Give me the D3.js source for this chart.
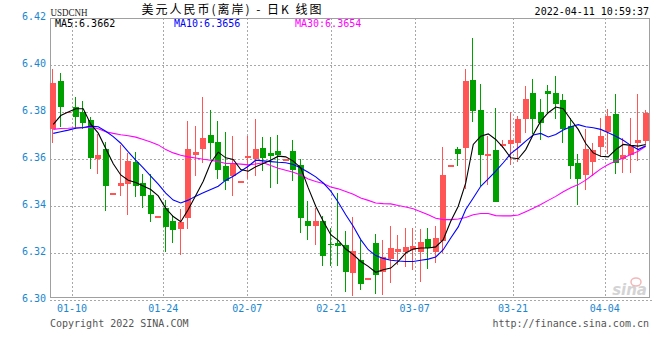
<!DOCTYPE html>
<html>
<head>
<meta charset="utf-8">
<script src="https://cdn.jsdelivr.net/npm/d3@7/dist/d3.min.js"></script>
<style>
  html, body { margin: 0; padding: 0; background: #fff; }
  svg { display: block; }
</style>
</head>
<body>
<svg id="chart" width="660" height="360"></svg>
<script>
// ---------------- data ----------------
const openV = [6.3729,6.3931,6.3800,6.3820,6.3799,6.3765,6.3599,6.3641,6.3453,6.3485,
6.3494,6.3587,6.3499,6.3446,6.3354,6.3393,6.3336,6.3301,6.3349,6.3617,
6.3641,6.3701,6.3671,6.3570,6.3528,6.3503,6.3604,6.3602,6.3646,6.3624,
6.3633,6.3596,6.3633,6.3575,6.3336,6.3315,6.3336,6.3240,6.3242,6.3233,
6.3114,6.3170,6.3091,6.3242,6.3119,6.3176,6.3205,6.3205,6.3213,6.3205,
6.3258,6.3205,6.3251,6.3572,6.3641,6.3647,6.3935,6.3807,6.3613,6.3637,
6.3659,6.3663,6.3670,6.3769,6.3880,6.3800,6.3889,6.3880,6.3850,6.3740,
6.3584,6.3531,6.3587,6.3651,6.3715,6.3790,6.3599,6.3616,6.3670,6.3675];

const closeV = [6.3922,6.3820,6.3801,6.3777,6.3755,6.3604,6.3616,6.3485,6.3455,6.3497,
6.3590,6.3485,6.3443,6.3366,6.3356,6.3311,6.3298,6.3332,6.3641,6.3628,
6.3689,6.3667,6.3553,6.3507,6.3582,6.3505,6.3613,6.3641,6.3604,6.3613,
6.3617,6.3598,6.3553,6.3348,6.3315,6.3336,6.3187,6.3238,6.3230,6.3120,
6.3209,6.3068,6.3093,6.3108,6.3183,6.3220,6.3216,6.3224,6.3229,6.3246,
6.3222,6.3263,6.3532,6.3574,6.3620,6.3931,6.3804,6.3617,6.3620,6.3415,
6.3663,6.3680,6.3769,6.3854,6.3769,6.3755,6.3877,6.3833,6.3726,6.3570,
6.3516,6.3641,6.3637,6.3698,6.3782,6.3582,6.3616,6.3655,6.3680,6.3794];

const highV = [6.3982,6.3965,6.3801,6.3865,6.3847,6.3779,6.3705,6.3674,6.3455,6.3660,
6.3627,6.3630,6.3535,6.3535,6.3356,6.3424,6.3360,6.3386,6.3762,6.3741,
6.3865,6.3809,6.3762,6.3715,6.3698,6.3505,6.3698,6.3769,6.3695,6.3695,
6.3701,6.3598,6.3681,6.3602,6.3421,6.3390,6.3358,6.3308,6.3454,6.3293,
6.3353,6.3254,6.3093,6.3279,6.3254,6.3317,6.3275,6.3308,6.3308,6.3301,
6.3308,6.3315,6.3651,6.3574,6.3651,6.3982,6.4113,6.3918,6.3698,6.3817,
6.3680,6.3802,6.3783,6.3911,6.3939,6.3854,6.3914,6.3955,6.3875,6.3776,
6.3623,6.3726,6.3667,6.3773,6.3812,6.3875,6.3691,6.3773,6.3875,6.3809];

const lowV = [6.3667,6.3738,6.3800,6.3729,6.3726,6.3556,6.3535,6.3379,6.3453,6.3443,
6.3362,6.3440,6.3393,6.3334,6.3354,6.3204,6.3244,6.3192,6.3304,6.3528,
6.3585,6.3602,6.3516,6.3468,6.3443,6.3503,6.3514,6.3528,6.3549,6.3475,
6.3494,6.3596,6.3507,6.3287,6.3256,6.3234,6.3145,6.3145,6.3145,6.3033,
6.3017,6.3044,6.3091,6.3024,6.3021,6.3073,6.3148,6.3142,6.3128,6.3078,
6.3131,6.3159,6.3202,6.3572,6.3570,6.3471,6.3758,6.3485,6.3488,6.3415,
6.3648,6.3575,6.3589,6.3712,6.3705,6.3681,6.3797,6.3769,6.3670,6.3516,
6.3405,6.3467,6.3528,6.3609,6.3620,6.3535,6.3542,6.3542,6.3592,6.3663];

const ma5 = [6.3747,6.3785,6.3800,6.3814,6.3814,6.3748,6.3710,6.3645,6.3580,6.3532,
6.3510,6.3500,6.3485,6.3470,6.3443,6.3390,6.3355,6.3333,6.3385,6.3445,
6.3505,6.3584,6.3629,6.3605,6.3598,6.3555,6.3548,6.3567,6.3581,6.3595,
6.3612,6.3609,6.3591,6.3562,6.3477,6.3399,6.3335,6.3278,6.3254,6.3217,
6.3193,6.3164,6.3143,6.3118,6.3129,6.3136,6.3164,6.3200,6.3217,6.3221,
6.3221,6.3226,6.3257,6.3335,6.3399,6.3498,6.3662,6.3697,6.3707,6.3683,
6.3648,6.3605,6.3601,6.3640,6.3704,6.3761,6.3797,6.3821,6.3814,6.3768,
6.3726,6.3666,6.3626,6.3612,6.3609,6.3640,6.3662,6.3658,6.3655,6.3662];

const ma10 = [6.3709,6.3716,6.3723,6.3731,6.3734,6.3740,6.3737,6.3718,6.3695,6.3667,
6.3630,6.3595,6.3562,6.3527,6.3493,6.3455,6.3425,6.3413,6.3425,6.3442,
6.3456,6.3470,6.3484,6.3510,6.3527,6.3548,6.3569,6.3595,6.3592,6.3589,
6.3586,6.3584,6.3577,6.3562,6.3544,6.3524,6.3498,6.3463,6.3416,6.3363,
6.3314,6.3257,6.3214,6.3189,6.3177,6.3169,6.3166,6.3164,6.3164,6.3169,
6.3174,6.3183,6.3214,6.3264,6.3311,6.3385,6.3434,6.3484,6.3515,6.3548,
6.3584,6.3623,6.3648,6.3676,6.3702,6.3709,6.3694,6.3704,6.3723,6.3737,
6.3746,6.3737,6.3733,6.3726,6.3712,6.3697,6.3680,6.3658,6.3640,6.3656];

const ma30 = [6.3726,6.3730,6.3731,6.3733,6.3733,6.3736,6.3729,6.3716,6.3709,6.3703,
6.3699,6.3693,6.3683,6.3672,6.3660,6.3640,6.3626,6.3616,6.3609,6.3604,
6.3599,6.3595,6.3589,6.3581,6.3581,6.3578,6.3575,6.3579,6.3584,6.3572,
6.3561,6.3552,6.3544,6.3532,6.3515,6.3504,6.3496,6.3481,6.3473,6.3462,
6.3450,6.3434,6.3424,6.3413,6.3410,6.3409,6.3402,6.3396,6.3388,6.3376,
6.3363,6.3348,6.3342,6.3342,6.3345,6.3351,6.3363,6.3368,6.3368,6.3359,
6.3358,6.3358,6.3362,6.3376,6.3390,6.3406,6.3424,6.3441,6.3461,6.3478,
6.3491,6.3510,6.3534,6.3558,6.3577,6.3591,6.3604,6.3619,6.3633,6.3654];

const xTickLabels = ["01-10","01-24","02-07","02-21","03-07","03-21","04-04"];
const xTickIndex  = [2.5, 14.67, 25.87, 37.07, 48.19, 61.3, 73.53];
const yTicks = [6.30, 6.32, 6.34, 6.36, 6.38, 6.40, 6.42];

const maLabels = [
  {text: "MA5:6.3662", color: "#000000"},
  {text: "MA10:6.3656", color: "#0000ff"},
  {text: "MA30:6.3654", color: "#ff00ff"}
];

// ---------------- layout ----------------
const svg = d3.select("#chart");
const L = 50, R = 649, T = 18, B = 297;
const mono = "'DejaVu Sans Mono', monospace";

const x = d3.scaleLinear().domain([-0.5, openV.length - 0.5]).range([49.5, 649.5]);
const y = d3.scaleLinear().domain([6.30, 6.42]).range([300, 18]);

const candles = openV.map((o, i) => ({i, o, c: closeV[i], h: highV[i], l: lowV[i]}));

// grid
const grid = svg.append("g").attr("stroke", "#a8a8a8").attr("stroke-dasharray", "2,2")
  .attr("shape-rendering", "crispEdges");
grid.selectAll("line.h").data(yTicks.filter(v => v > 6.305 && v < 6.415)).join("line")
  .attr("x1", L).attr("x2", R)
  .attr("y1", d => Math.round(y(d)) + 0.5).attr("y2", d => Math.round(y(d)) + 0.5);
grid.append("line").attr("x1", L).attr("x2", 652)
  .attr("y1", Math.round(y(6.30)) + 0.5).attr("y2", Math.round(y(6.30)) + 0.5);
grid.selectAll("line.v").data(xTickIndex).join("line")
  .attr("x1", d => Math.round(x(d)) + 0.5).attr("x2", d => Math.round(x(d)) + 0.5)
  .attr("y1", T).attr("y2", B);

// frame
svg.append("rect").attr("x", L + 0.5).attr("y", T + 0.5).attr("width", R - L).attr("height", B - T)
  .attr("fill", "none").attr("stroke", "#a0a0a0").attr("stroke-width", 1)
  .attr("shape-rendering", "crispEdges");

// sina watermark
const wm = svg.append("g");
wm.append("text").attr("x", 647).attr("y", 295).attr("text-anchor", "end")
  .attr("font-family", "'DejaVu Sans', sans-serif").attr("font-size", 15)
  .attr("font-style", "italic").attr("font-weight", "bold").attr("fill", "#d4d4d4").text("sina");
wm.append("ellipse").attr("cx", 636).attr("cy", 282).attr("rx", 5).attr("ry", 4)
  .attr("fill", "none").attr("stroke", "#f2b8b8").attr("stroke-width", 1.5);

// candles
const up = "#ff5555", down = "#00a000";
const cg = svg.append("g").attr("shape-rendering", "crispEdges");
const cs = cg.selectAll("g").data(candles).join("g");
cs.append("rect")
  .attr("x", d => Math.round(x(d.i)) - 1)
  .attr("width", 1)
  .attr("y", d => y(d.h))
  .attr("height", d => Math.max(0, y(d.l) - y(d.h)))
  .attr("fill", d => d.c >= d.o ? up : down);
cs.append("rect")
  .attr("x", d => Math.round(x(d.i)) - 3.5)
  .attr("width", 6)
  .attr("y", d => y(Math.max(d.o, d.c)))
  .attr("height", d => Math.max(1.5, Math.abs(y(d.o) - y(d.c))))
  .attr("fill", d => d.c >= d.o ? up : down);

// moving averages
const line = d3.line().x((d, i) => x(i)).y(d => y(d));
[[ma30, "#ff00ff"], [ma10, "#0000ff"], [ma5, "#000000"]].forEach(([arr, col]) => {
  svg.append("path").datum(arr).attr("d", line).attr("fill", "none")
    .attr("stroke", col).attr("stroke-width", 1.1);
});

// y axis labels
svg.append("g").selectAll("text").data(yTicks).join("text")
  .attr("x", 46).attr("y", d => y(d) + 1.5).attr("text-anchor", "end")
  .attr("font-family", mono).attr("font-size", 10).attr("fill", "#1a86d0")
  .text(d => d.toFixed(2));

// x axis labels
svg.append("g").selectAll("text").data(xTickLabels).join("text")
  .attr("x", (d, i) => x(xTickIndex[i])).attr("y", 311.5).attr("text-anchor", "middle")
  .attr("font-family", mono).attr("font-size", 10).attr("fill", "#1a86d0")
  .text(d => d);

// header
svg.append("text").attr("x", 50.5).attr("y", 15.5)
  .attr("font-family", "'Liberation Serif', serif").attr("font-size", 11)
  .attr("fill", "#222").attr("textLength", 37).attr("lengthAdjust", "spacingAndGlyphs").text("USDCNH");
svg.append("text").attr("x", 141.5).attr("y", 14)
  .attr("font-family", "'Noto Sans CJK SC', sans-serif").attr("font-size", 12)
  .attr("fill", "#000").attr("textLength", 180).attr("lengthAdjust", "spacing")
  .text("美元人民币(离岸) - 日K 线图");
svg.append("text").attr("x", 649).attr("y", 15).attr("text-anchor", "end")
  .attr("font-family", mono).attr("font-size", 10).attr("fill", "#000")
  .text("2022-04-11 10:59:37");

const maX = [55, 174, 295];
svg.append("g").selectAll("text").data(maLabels).join("text")
  .attr("x", (d, i) => maX[i]).attr("y", 26.5)
  .attr("font-family", mono).attr("font-size", 10).attr("fill", d => d.color)
  .text(d => d.text);

// footer
svg.append("text").attr("x", 50).attr("y", 327)
  .attr("font-family", mono).attr("font-size", 10).attr("fill", "#555")
  .text("Copyright 2022 SINA.COM");
svg.append("text").attr("x", 649).attr("y", 327).attr("text-anchor", "end")
  .attr("font-family", mono).attr("font-size", 10).attr("fill", "#555")
  .text("http://finance.sina.com.cn");
</script>
</body>
</html>
